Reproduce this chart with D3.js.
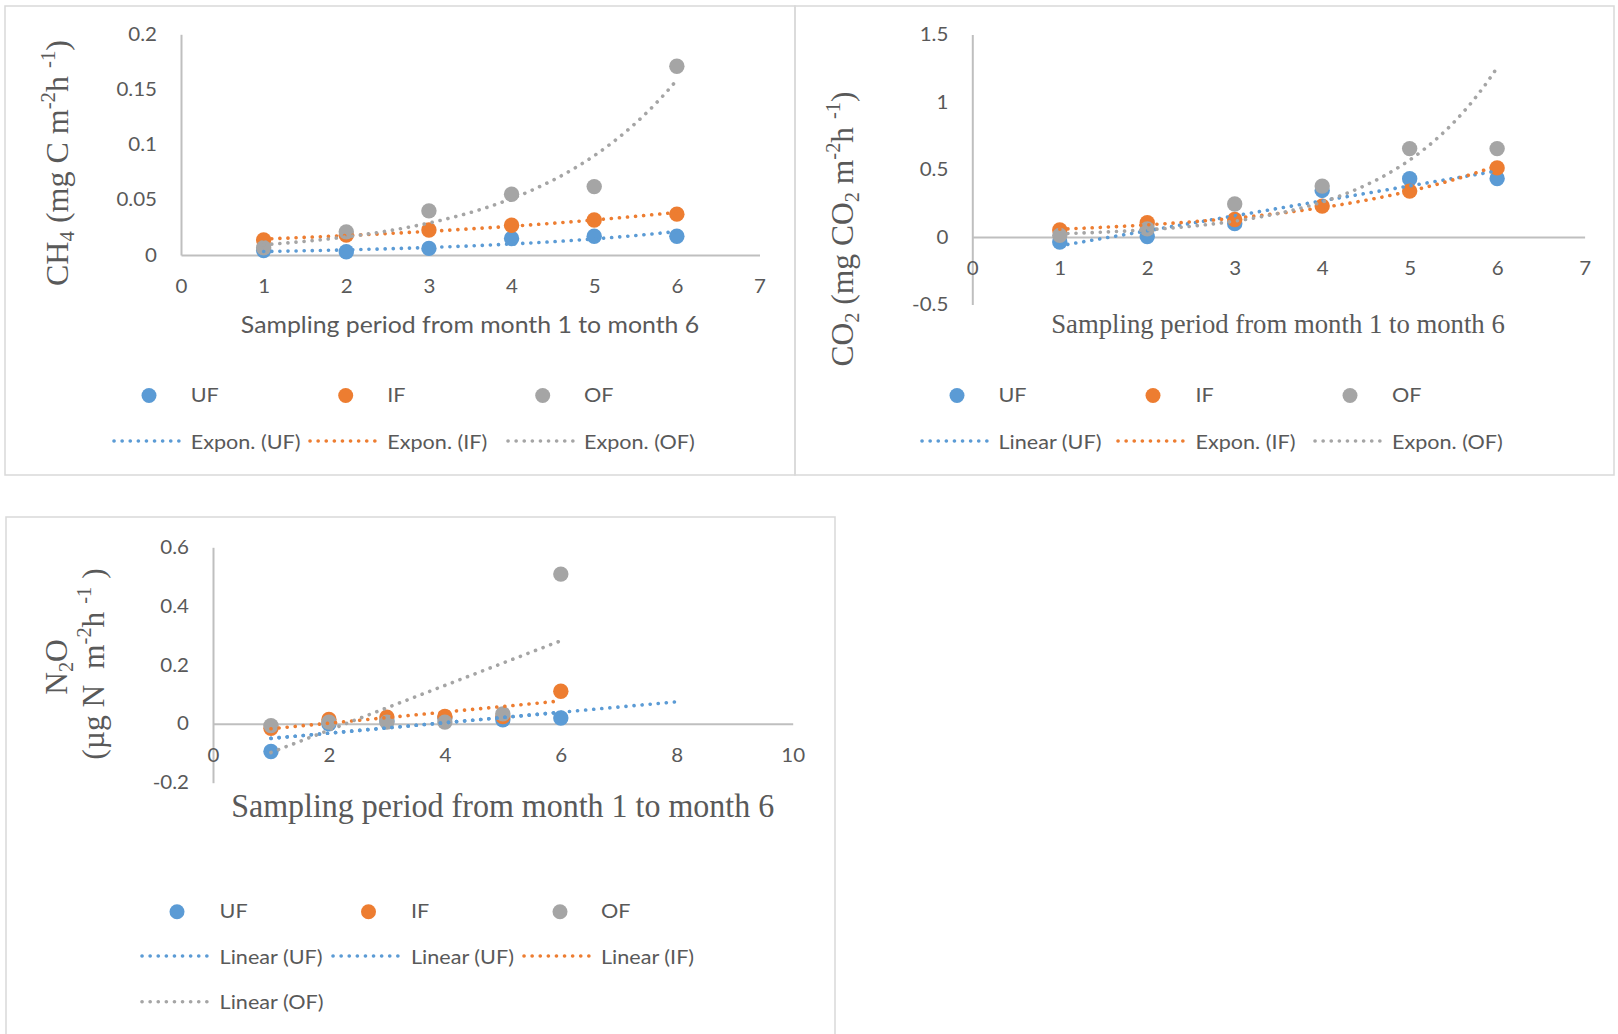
<!DOCTYPE html>
<html><head><meta charset="utf-8">
<script src="https://cdn.jsdelivr.net/npm/d3@7"></script>
<style>body{margin:0;background:#fff;}svg{display:block;}text{white-space:pre;}</style>
</head><body>
<svg id="c" width="1618" height="1034"></svg>
<script>
// ---------- DATA ----------
const seriesNames = ["UF", "IF", "OF"];
const months = [1, 2, 3, 4, 5, 6];
const ch4UF = [0.004, 0.003, 0.006, 0.015, 0.017, 0.017];
const ch4IF = [0.0136, 0.018, 0.0226, 0.027, 0.0317, 0.037];
const ch4OF = [0.0066, 0.021, 0.040, 0.055, 0.062, 0.171];
const co2UF = [-0.037, 0.003, 0.099, 0.345, 0.431, 0.433];
const co2IF = [0.052, 0.106, 0.13, 0.229, 0.34, 0.512];
const co2OF = [0.012, 0.06, 0.244, 0.377, 0.655, 0.655];
const n2oUF = [-0.094, 0.0, 0.01, 0.02, 0.014, 0.02];
const n2oIF = [-0.015, 0.015, 0.023, 0.025, 0.025, 0.111];
const n2oOF = [-0.006, 0.006, 0.006, 0.006, 0.034, 0.509];
const ch4YTicks = [0, 0.05, 0.1, 0.15, 0.2];
const ch4XTicks = [0, 1, 2, 3, 4, 5, 6, 7];
const co2YTicks = [-0.5, 0, 0.5, 1, 1.5];
const co2XTicks = [0, 1, 2, 3, 4, 5, 6, 7];
const n2oYTicks = [-0.2, 0, 0.2, 0.4, 0.6];
const n2oXTicks = [0, 2, 4, 6, 8, 10];
const ch4TrendLabels = ["Expon. (UF)", "Expon. (IF)", "Expon. (OF)"];
const co2TrendLabels = ["Linear (UF)", "Expon. (IF)", "Expon. (OF)"];
const n2oTrendLabels = ["Linear (UF)", "Linear (UF)", "Linear (IF)", "Linear (OF)"];
const xTitle = "Sampling period from month 1 to month 6";
const ch4Title = [["CH","n"],["4","sub"],[" (mg C m","n"],["-2","sup"],["h ","n"],["-1","sup"],[")","n"]];
const co2Title = [["CO","n"],["2","sub"],[" (mg CO","n"],["2","sub"],[" m","n"],["-2","sup"],["h ","n"],["-1","sup"],[")","n"]];
const n2oTitle1 = [["N","n"],["2","sub"],["O","n"]];
const n2oTitle2 = [["(µg N  m","n"],["-2","sup"],["h ","n"],["-1","sup"],[" )","n"]];

// ---------- STYLE ----------
const colors = ["#5B9BD5", "#ED7D31", "#A5A5A5"];
const SANS = "Lato, 'Open Sans', sans-serif";
const SERIF = "'Liberation Serif', 'Times New Roman', serif";
const TXT = "#595959", AXIS = "#BFBFBF", FRAME = "#D9D9D9";
const SX = 1.08;
const DOTS = "0.1 8";
const DOTW = 3.6;

const svg = d3.select("#c");
svg.append("rect").attr("width", 1618).attr("height", 1034).attr("fill", "#fff");

// ---------- FITS ----------
function linFit(xs, ys) {
  const n = xs.length, mx = d3.mean(xs), my = d3.mean(ys);
  let sxy = 0, sxx = 0;
  for (let i = 0; i < n; i++) { sxy += (xs[i]-mx)*(ys[i]-my); sxx += (xs[i]-mx)**2; }
  const b = sxy/sxx, a = my - b*mx;
  return x => a + b*x;
}
function expFit(xs, ys) {
  const f = linFit(xs, ys.map(Math.log));
  return x => Math.exp(f(x));
}

// ---------- TEXT HELPERS ----------
function sText(g, x, y, str, size, anchor, family, sx) {
  return g.append("text")
    .attr("transform", `translate(${x},${y}) scale(${sx},1)`)
    .attr("font-family", family).attr("font-size", size)
    .attr("fill", TXT).attr("text-anchor", anchor).text(str);
}
function richRot(g, x, y, parts, size) {
  const t = g.append("text")
    .attr("transform", `translate(${x},${y}) rotate(-90)`)
    .attr("font-family", SERIF).attr("font-size", size)
    .attr("fill", TXT).attr("text-anchor", "middle");
  let shift = 0;
  parts.forEach(([s, k]) => {
    const target = k === "sub" ? 0.2*size : k === "sup" ? -0.42*size : 0;
    t.append("tspan").attr("dy", target - shift)
      .attr("font-size", k === "n" ? size : size*0.65).text(s);
    shift = target;
  });
  return t;
}

// ---------- FRAMES ----------
[[5,6,790,469],[795,6,819,469],[6,517,829,530]].forEach(([x,y,w,h]) =>
  svg.append("rect").attr("x", x).attr("y", y).attr("width", w).attr("height", h)
    .attr("fill", "none").attr("stroke", FRAME).attr("stroke-width", 1.5));

// ---------- PANEL ----------
function panel(cfg) {
  const g = svg.append("g");
  const x = d3.scaleLinear().domain(cfg.xdom).range(cfg.xr);
  const y = d3.scaleLinear().domain(cfg.ydom).range(cfg.yr);
  const fmt = d => String(d);

  const gy = g.append("g").attr("transform", `translate(${cfg.xr[0]},0)`)
    .call(d3.axisLeft(y).tickValues(cfg.yt).tickSize(0).tickSizeOuter(0).tickFormat(fmt));
  const gx = g.append("g").attr("transform", `translate(0,${y(0)})`)
    .call(d3.axisBottom(x).tickValues(cfg.xt).tickSize(0).tickSizeOuter(0).tickPadding(24.5).tickFormat(fmt));
  [gx, gy].forEach(a => {
    a.select(".domain").attr("stroke", AXIS).attr("stroke-width", 2);
    a.selectAll("text").attr("font-family", SANS).attr("font-size", 19).attr("fill", TXT);
  });
  gy.selectAll("text").attr("x", -24/SX).attr("transform", `scale(${SX},1)`);
  gx.selectAll("text").attr("transform", `scale(${SX},1)`);

  // markers
  cfg.series.forEach((vals, si) => {
    g.append("g").selectAll("circle").data(vals).join("circle")
      .attr("cx", (d, i) => x(months[i])).attr("cy", d => y(d))
      .attr("r", 7.7).attr("fill", colors[si]);
  });
  // trendlines
  cfg.trends.forEach(t => {
    const f = (t.type === "exp" ? expFit : linFit)(months, cfg.series[t.s]);
    const pts = d3.range(1, t.to + 1e-9, 0.05);
    g.append("path").attr("d", d3.line().x(d => x(d)).y(d => y(f(d)))(pts))
      .attr("fill", "none").attr("stroke", colors[t.s]).attr("stroke-width", DOTW)
      .attr("stroke-linecap", "round").attr("stroke-dasharray", DOTS);
  });

  // x title
  if (cfg.xTitleSerif) sText(g, cfg.xTitlePos[0], cfg.xTitlePos[1], xTitle, cfg.xTitleSize, "middle", SERIF, cfg.xTitleSX);
  else sText(g, cfg.xTitlePos[0], cfg.xTitlePos[1], xTitle, cfg.xTitleSize, "middle", SANS, SX);

  // y title
  cfg.yTitles.forEach(yt => richRot(g, yt.x, yt.y, yt.parts, yt.size));

  // legend
  const L = cfg.legend;
  seriesNames.forEach((nm, i) => {
    g.append("circle").attr("cx", L.mx[i]).attr("cy", L.my).attr("r", 7.5).attr("fill", colors[i]);
    sText(g, L.tx[i], L.my + 6.5, nm, 20, "start", SANS, SX);
  });
  L.rows.forEach(r => {
    g.append("line").attr("x1", r.x1).attr("x2", r.x2).attr("y1", r.y).attr("y2", r.y)
      .attr("stroke", colors[cfg.trends[r.t].s]).attr("stroke-width", DOTW)
      .attr("stroke-linecap", "round").attr("stroke-dasharray", DOTS);
    sText(g, r.tx, r.y + 7.5, cfg.trendLabels[r.t], 20, "start", SANS, SX);
  });
}

panel({
  xdom: [0, 7], xr: [181, 759.5], ydom: [0, 0.2], yr: [255, 34.3],
  xt: ch4XTicks, yt: ch4YTicks, series: [ch4UF, ch4IF, ch4OF],
  trends: [{s:0,type:"exp",to:6},{s:1,type:"exp",to:6},{s:2,type:"exp",to:6}],
  trendLabels: ch4TrendLabels,
  xTitlePos: [470, 333], xTitleSize: 23,
  yTitles: [{x: 68, y: 163, parts: ch4Title, size: 32}],
  legend: {mx: [149, 345.7, 542.7], my: 395.5, tx: [190.7, 387.3, 584],
    rows: [{t:0,x1:114,x2:180,y:441,tx:190.7},{t:1,x1:310,x2:378,y:441,tx:387.3},{t:2,x1:508,x2:575,y:441,tx:584}]}
});

panel({
  xdom: [0, 7], xr: [972.3, 1584.6], ydom: [-0.5, 1.5], yr: [304.5, 34.5],
  xt: co2XTicks, yt: co2YTicks, series: [co2UF, co2IF, co2OF],
  trends: [{s:0,type:"lin",to:6},{s:1,type:"exp",to:6},{s:2,type:"exp",to:6}],
  trendLabels: co2TrendLabels,
  xTitleSerif: true, xTitlePos: [1278, 333], xTitleSize: 28, xTitleSX: 0.955,
  yTitles: [{x: 853, y: 229, parts: co2Title, size: 31.5}],
  legend: {mx: [957, 1153, 1350], my: 395.5, tx: [998.5, 1195.5, 1392],
    rows: [{t:0,x1:922,x2:990,y:441,tx:998.5},{t:1,x1:1118,x2:1186,y:441,tx:1195.5},{t:2,x1:1315,x2:1383,y:441,tx:1392}]}
});

panel({
  xdom: [0, 10], xr: [213, 792.7], ydom: [-0.2, 0.6], yr: [782.7, 547.3],
  xt: n2oXTicks, yt: n2oYTicks, series: [n2oUF, n2oIF, n2oOF],
  trends: [{s:0,type:"lin",to:8},{s:0,type:"lin",to:6},{s:1,type:"lin",to:6},{s:2,type:"lin",to:6}],
  trendLabels: n2oTrendLabels,
  xTitleSerif: true, xTitlePos: [502.7, 817], xTitleSize: 33, xTitleSX: 0.97,
  yTitles: [{x: 66.7, y: 667, parts: n2oTitle1, size: 31.5}, {x: 104, y: 664, parts: n2oTitle2, size: 31.5}],
  legend: {mx: [177, 368.5, 560], my: 911.7, tx: [219.6, 411, 601],
    rows: [{t:0,x1:142,x2:210,y:956,tx:219.6},{t:1,x1:333,x2:402,y:956,tx:411},{t:2,x1:524,x2:592,y:956,tx:601},{t:3,x1:142,x2:210,y:1001.7,tx:219.6}]}
});
</script>
</body></html>
